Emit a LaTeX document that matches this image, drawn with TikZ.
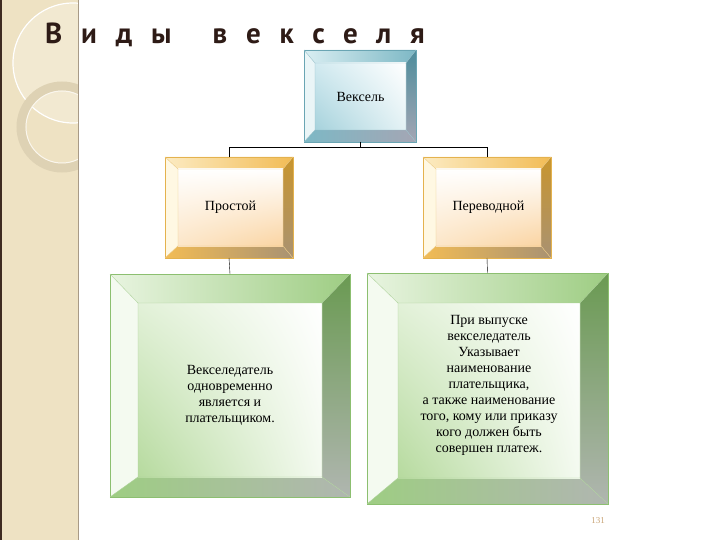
\documentclass[tikz,border=0pt]{standalone}
\usepackage{fontspec}
\setmainfont{Liberation Serif}
\newfontfamily\titlefont[LetterSpace=65]{PT Sans}
\usetikzlibrary{calc,shadings}
\definecolor{stripe}{HTML}{EEE2C3}
\definecolor{stripeL}{HTML}{F2E9D1}
\definecolor{stripeD}{HTML}{A89A86}
\definecolor{ringC}{HTML}{DED2B4}
\definecolor{brownD}{HTML}{3E2B20}
\definecolor{titlebrown}{HTML}{2E1B16}
\definecolor{pgnum}{HTML}{C9A476}
% teal
\definecolor{tealL}{HTML}{EAF5F7}\definecolor{tealA}{HTML}{D9EEF2}
\definecolor{tealB}{HTML}{7DB8C5}\definecolor{tealC}{HTML}{4E8D9C}
\definecolor{tealG}{HTML}{A4A6B4}\definecolor{tealE}{HTML}{6AA5B3}
\definecolor{tealUL}{HTML}{D2EAF0}\definecolor{tealLL}{HTML}{A6D2DC}
\definecolor{tealLR}{HTML}{E4F2F5}
% orange
\definecolor{orL}{HTML}{FFF8E3}\definecolor{orA}{HTML}{FCEBC2}
\definecolor{orB}{HTML}{F2BC55}\definecolor{orC}{HTML}{C8952E}
\definecolor{orG}{HTML}{A99272}\definecolor{orE}{HTML}{E4B24E}
\definecolor{orUL}{HTML}{FFFFFF}\definecolor{orLL}{HTML}{FCE6C8}
\definecolor{orLR}{HTML}{FAD4A2}
% green
\definecolor{grL}{HTML}{F4FAF0}\definecolor{grA}{HTML}{E8F4E0}
\definecolor{grB}{HTML}{9ECD83}\definecolor{grC}{HTML}{6A9A52}
\definecolor{grG}{HTML}{B0B6B0}\definecolor{grE}{HTML}{8CBF70}
\definecolor{grUL}{HTML}{E2F1D8}\definecolor{grLL}{HTML}{B6DA9E}
\definecolor{grLR}{HTML}{F4FAF0}
\tikzset{
    FR/.style ={rectangle,inner sep=0pt,outer sep=0pt},
    TX/.style ={align=center,inner sep=0pt,font=\fontsize{14}{16}\selectfont}}
\newcommand{\bevelbox}[8]{% #1 node, #2 colours, #3 left, #4 top, #5 right, #6 bottom, #7 text shift, #8 text
    \coordinate (#1-a) at ($(#1.north west)+(#3,#4)$);
    \coordinate (#1-b) at ($(#1.north east)+(-#5,#4)$);
    \coordinate (#1-c) at ($(#1.south east)+(-#5,-#6)$);
    \coordinate (#1-d) at ($(#1.south west)+(#3,-#6)$);
    \shade[left color=#2A,right color=#2B] (#1.north west)--(#1.north east)--(#1-b)--(#1-a)--cycle;
    \fill[#2L] (#1.north west)--(#1-a)--(#1-d)--(#1.south west)--cycle;
    \shade[top color=#2C,bottom color=#2G] (#1.north east)--(#1.south east)--(#1-c)--(#1-b)--cycle;
    \shade[left color=#2B,right color=#2G] (#1.south west)--(#1-d)--(#1-c)--(#1.south east)--cycle;
    \shade[upper left=#2UL,upper right=white,lower left=#2LL,lower right=#2LR] (#1-a) rectangle (#1-c);
    \draw[#2E,thin] (#1.north west) rectangle (#1.south east);
    \draw[#2E!70,thin] (#1-a) rectangle (#1-c) (#1.north west)--(#1-a) (#1.north east)--(#1-b)
        (#1.south east)--(#1-c) (#1.south west)--(#1-d);
    \node[TX] (#1-t) at ($($(#1-a)!.5!(#1-c)$)+(0,#7)$) {#8};}

\begin{document}
\begin{tikzpicture}[x=1pt,y=-1pt]
    \useasboundingbox (0,0) rectangle (720,540);
    \fill[white] (0,0) rectangle (720,540);
    % side stripe
    \begin{scope}
        \clip (0,0) rectangle (78,540);
        \fill[stripe] (0,0) rectangle (78,540);
        \fill[stripeL] (73,63) circle (60);
        \draw[white,line width=1.2pt] (73,63) circle (60);
        \draw[ringC,line width=9pt] (62,127) circle (41);
        \draw[white!70!stripe,line width=1pt] (62,127) circle (36);
    \end{scope}
    \draw[stripeD,line width=1.5pt] (78.5,0)--(78.5,540);
    \draw[brownD,line width=2pt] (1,0)--(1,540);
    \node[anchor=base west,inner sep=0pt,text=titlebrown,font=\titlefont\bfseries\fontsize{29}{29}\selectfont]
        (title) at (45,44) {Виды\hspace{41pt}векселя};
    % boxes
    \node[FR,minimum width=112pt,minimum height=92pt] (vek) at (360,96) {};
    \bevelbox{vek}{teal}{11}{13}{10}{12}{0}{Вексель}
    \node[FR,minimum width=128pt,minimum height=101pt] (prost) at (229,207.5) {};
    \bevelbox{prost}{or}{13}{12}{10}{12}{0}{Простой}
    \node[FR,minimum width=128pt,minimum height=101pt] (perev) at (487,207.5) {};
    \bevelbox{perev}{or}{13}{12}{10}{12}{0}{Переводной}
    \node[FR,minimum width=240pt,minimum height=223pt] (vekdat) at (230,385.5) {};
    \bevelbox{vekdat}{gr}{28}{29}{28}{20}{5}{Векселедатель\\ одновременно\\ является и\\ плательщиком.}
    \node[FR,minimum width=241pt,minimum height=231pt] (vyp) at (487.5,388.5) {};
    \bevelbox{vyp}{gr}{31}{30}{28}{26}{-5}{При выпуске\\ векселедатель\\ Указывает\\ наименование\\ плательщика,\\
        а также наименование\\ того, кому или приказу\\ кого должен быть\\ совершен платеж.}
    % connectors
    \draw (vek.south)--++(0,5) -| (prost.north);
    \draw (vek.south)--++(0,5) -| (perev.north);
    \draw (prost.south)--(vekdat.north);
    \draw (perev.south)--(vyp.north);
    \node[text=pgnum,font=\fontsize{9}{9}\selectfont] (pg) at (598,521) {131};
\end{tikzpicture}
\end{document}
